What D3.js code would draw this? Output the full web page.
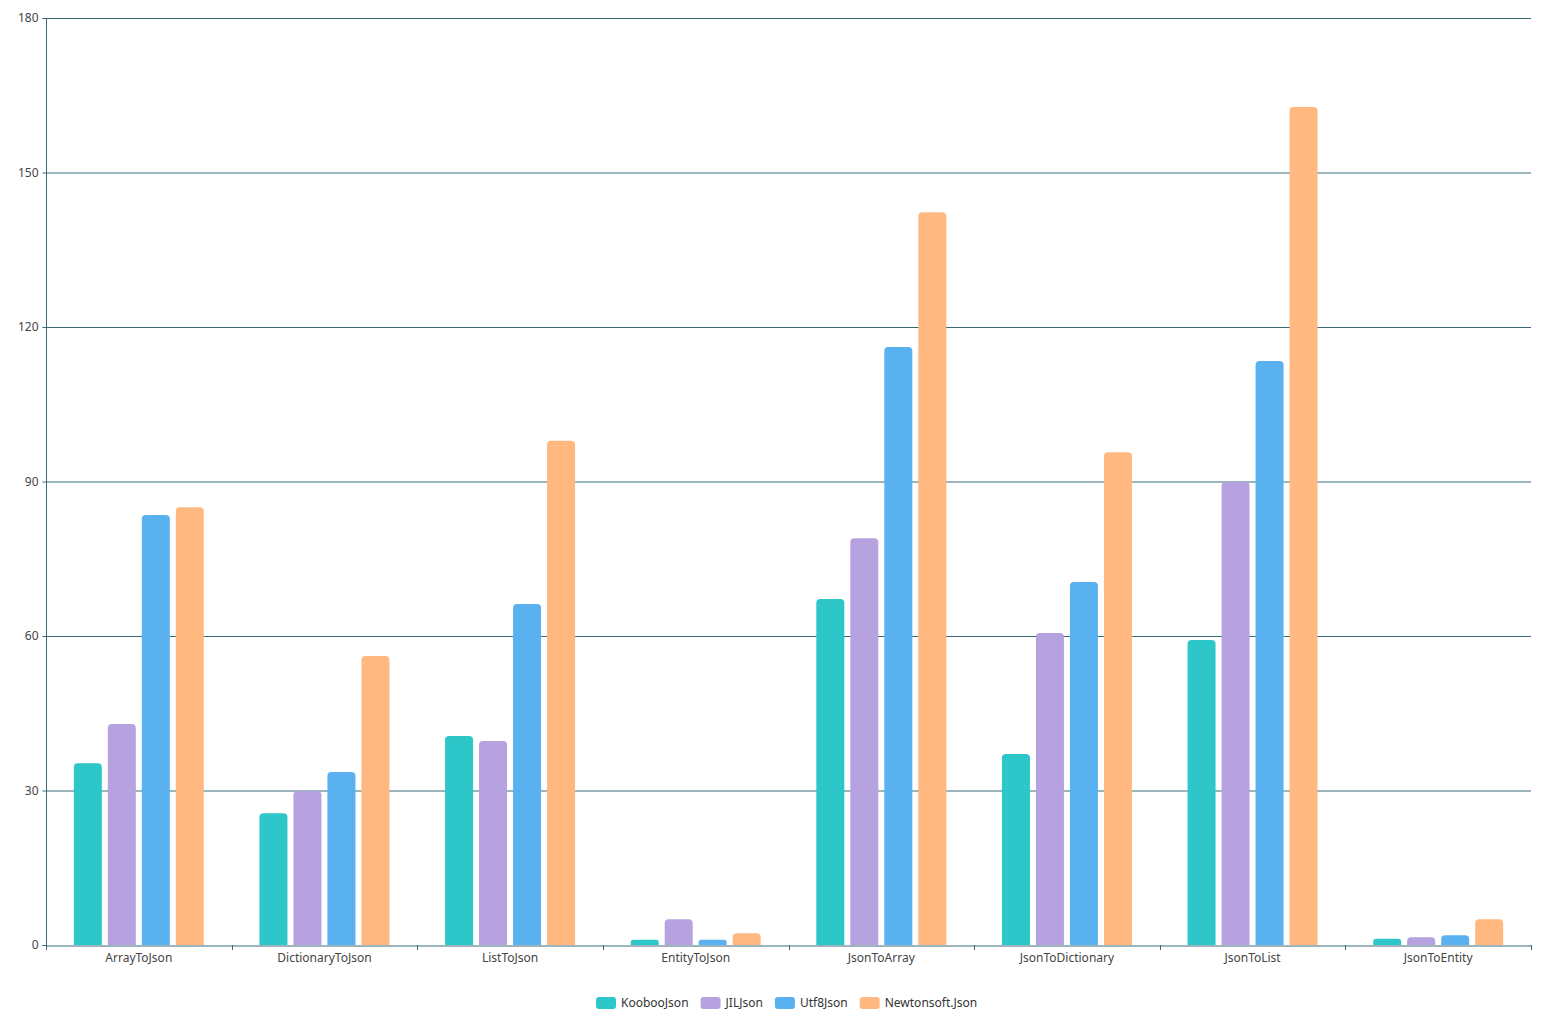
<!DOCTYPE html>
<html><head><meta charset="utf-8">
<script src="https://cdn.jsdelivr.net/npm/d3@7"></script>
<style>body{margin:0;background:#fff;}svg text{font-family:"Noto Sans",sans-serif;}</style>
</head><body>
<svg id="c" width="1567" height="1033"></svg>
<script>
const categories = ["ArrayToJson","DictionaryToJson","ListToJson","EntityToJson","JsonToArray","JsonToDictionary","JsonToList","JsonToEntity"];
const seriesNames = ["KoobooJson","JILJson","Utf8Json","Newtonsoft.Json"];
const kooboo = [35.3, 25.6, 40.6, 1.0, 67.2, 37.1, 59.2, 1.2];
const jil = [42.9, 29.9, 39.6, 5.0, 79.0, 60.6, 89.9, 1.5];
const utf8 = [83.5, 33.6, 66.2, 1.0, 116.1, 70.5, 113.4, 1.9];
const newton = [85.0, 56.1, 97.9, 2.3, 142.3, 95.7, 162.7, 5.0];
const yTicks = [0,30,60,90,120,150,180];
const colors = ["#2ec7c9","#b6a2de","#5ab1ef","#ffb980"];
const seriesVals = [kooboo, jil, utf8, newton];

const svg = d3.select("#c");
const L=46, R=1531, T=18, B=945;
const axisColor = "#3a6a78";
const x = d3.scaleBand().domain(categories).range([L,R]);
const y = d3.scaleLinear().domain([0,180]).range([B,T]);
const barW = 28, gap = 6;
const groupW = barW*4 + gap*3;

// grid
svg.append("g").selectAll("line").data(yTicks.filter(d=>d>0)).join("line")
  .attr("x1",L).attr("x2",R).attr("y1",d=>y(d)+0.5).attr("y2",d=>y(d)+0.5)
  .attr("stroke",axisColor).attr("stroke-width",1);

// bars
seriesVals.forEach((vals,si)=>{
  svg.append("g").selectAll("path").data(vals.map((v,i)=>({c:categories[i],v}))).join("path")
    .attr("fill",colors[si])
    .attr("d",d=>{
      const x0 = x(d.c) + (x.bandwidth()-groupW)/2 + si*(barW+gap);
      const y0 = y(d.v), h = B - y0;
      const r = Math.min(4, h/2, barW/2);
      return `M${x0},${B}V${y0+r}Q${x0},${y0} ${x0+r},${y0}H${x0+barW-r}Q${x0+barW},${y0} ${x0+barW},${y0+r}V${B}Z`;
    });
});

// y axis
const ya = svg.append("g").attr("transform",`translate(${L+0.5},0)`)
  .call(d3.axisLeft(y).tickValues(yTicks).tickSize(4).tickPadding(4));
ya.select(".domain").attr("stroke",axisColor).attr("d",`M-4,${T+0.5}H0V${B+0.5}H-4`);
ya.selectAll(".tick line").attr("stroke",axisColor);
ya.selectAll("text").attr("fill","#444").style("font-size","12px");

// x axis
const xa = svg.append("g").attr("transform",`translate(0,${B+0.5})`)
  .call(d3.axisBottom(x).tickSize(0).tickPadding(8));
xa.select(".domain").attr("stroke",axisColor);
xa.selectAll("text").attr("fill","#444").style("font-size","12px");
const bounds = categories.map(c=>x(c)).concat([R]);
svg.append("g").selectAll("line").data(bounds).join("line")
  .attr("x1",d=>Math.round(d)+0.5).attr("x2",d=>Math.round(d)+0.5).attr("y1",B).attr("y2",B+5)
  .attr("stroke",axisColor);

// legend
const lg = svg.append("g").attr("transform","translate(0,1003)");
let lx = 596;
seriesNames.forEach((n,i)=>{
  lg.append("rect").attr("x",lx).attr("y",-6).attr("width",20).attr("height",12).attr("rx",3).attr("fill",colors[i]);
  const t = lg.append("text").attr("x",lx+25).attr("y",0).attr("dy","0.35em").attr("fill","#333").style("font-size","12px").text(n);
  lx += 25 + t.node().getComputedTextLength() + 12;
});
</script>
</body></html>
